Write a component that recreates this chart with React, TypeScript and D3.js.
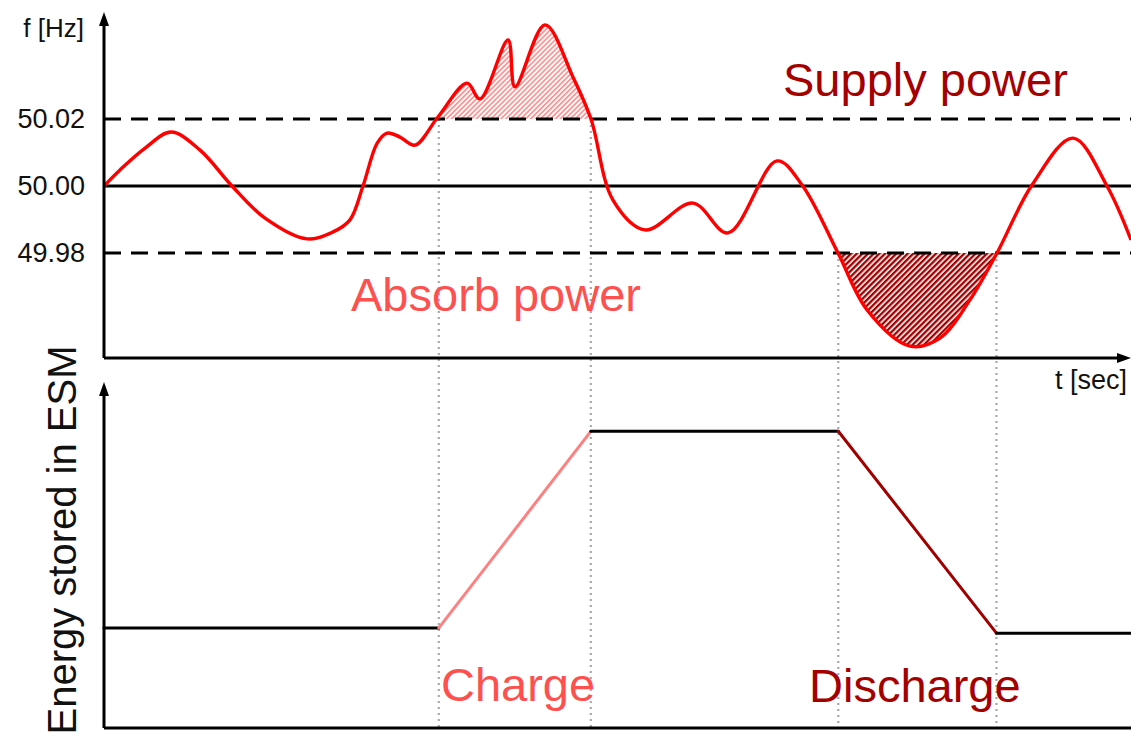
import React from "react";
import * as d3 from "d3";

// ---- data ----
const freqTimes = [0, 1.56, 4.0, 6.52, 9.35, 12.46, 15.68, 19.77, 22.3, 23.95, 25.22, 26.6, 27.56, 28.82, 30.28, 32.52, 35.35, 36.61, 39.34, 40.02, 42.94, 45.67, 47.42, 49.56, 52.68, 57.35, 60.76, 65.53, 67.97, 71.47, 74.3, 78.48, 81.4, 84.32, 86.95, 90.36, 94.35, 97.66, 100];
const freqValues = [50.0, 50.0048, 50.0113, 50.0161, 50.0107, 50.0, 49.9904, 49.9842, 49.9863, 49.9899, 50.0, 50.0128, 50.0158, 50.0146, 50.0122, 50.0206, 50.0307, 50.026, 50.0436, 50.0296, 50.0481, 50.0325, 50.02, 49.9958, 49.9869, 49.9949, 49.986, 50.0075, 50.0003, 49.98, 49.963, 49.9522, 49.9546, 49.966, 49.98, 50.0003, 50.0143, 50.0, 49.9839];
const freqTicks = [49.98, 50.0, 50.02];
const upperLimit = 50.02;
const lowerLimit = 49.98;
const crossTimes = [32.6, 47.4, 71.5, 86.9];
const energyTimes = [0, 32.6, 47.4, 71.5, 86.9, 100];
const energyValues = [2.9, 2.9, 8.6, 8.6, 2.75, 2.75];
const energyColors = ["#000000", "#ff8080", "#000000", "#a00000", "#000000"];

const W = 1131;
const H = 734;

export default function App() {
  const x = d3.scaleLinear().domain([0, 100]).range([104, 1131]);
  const yF = d3.scaleLinear().domain([49.98, 50.02]).range([253, 119]);
  const yE = d3.scaleLinear().domain([0, 10]).range([728, 383]);
  const topAxisY = 358;

  const pts: [number, number][] = freqTimes.map((t, i) => [t, freqValues[i]]);
  const curve = d3.curveCatmullRom.alpha(0.5);
  const line = d3.line<[number, number]>().x((d) => x(d[0])).y((d) => yF(d[1])).curve(curve);
  const areaUp = d3.area<[number, number]>().x((d) => x(d[0])).y0(yF(upperLimit)).y1((d) => yF(d[1])).curve(curve);
  const areaDown = d3.area<[number, number]>().x((d) => x(d[0])).y0(yF(lowerLimit)).y1((d) => yF(d[1])).curve(curve);

  const font = "'Liberation Sans', Arial, sans-serif";

  return (
    <svg width={W} height={H} style={{ position: "absolute", left: 0, top: 0, background: "#fff" }} fontFamily={font}>
      <defs>
        <pattern id="hatchUp" width="3.5" height="3.5" patternUnits="userSpaceOnUse" patternTransform="rotate(45)">
          <rect width="3.5" height="3.5" fill="#ffffff" />
          <rect width="1.6" height="3.5" fill="#ff8c8c" />
        </pattern>
        <pattern id="hatchDown" width="4" height="4" patternUnits="userSpaceOnUse" patternTransform="rotate(45)">
          <rect width="4" height="4" fill="#ffffff" />
          <rect width="2.4" height="4" fill="#a00000" />
        </pattern>
        <clipPath id="clipUp">
          <rect x={x(crossTimes[0])} y={0} width={x(crossTimes[1]) - x(crossTimes[0])} height={yF(upperLimit)} />
        </clipPath>
        <clipPath id="clipDown">
          <rect x={x(crossTimes[2])} y={yF(lowerLimit)} width={x(crossTimes[3]) - x(crossTimes[2])} height={200} />
        </clipPath>
      </defs>

      {/* hatched areas */}
      <path d={areaUp(pts) || ""} fill="url(#hatchUp)" clipPath="url(#clipUp)" />
      <path d={areaDown(pts) || ""} fill="url(#hatchDown)" clipPath="url(#clipDown)" />

      {/* dotted vertical guides */}
      {crossTimes.map((t, i) => (
        <line key={"g" + i} x1={x(t)} x2={x(t)} y1={i < 2 ? yF(upperLimit) : yF(lowerLimit)} y2={728}
          stroke="#a8a8a8" strokeWidth={2.2} strokeDasharray="2,4" />
      ))}

      {/* threshold dashed lines */}
      {[upperLimit, lowerLimit].map((v) => (
        <line key={"d" + v} x1={104} x2={1131} y1={yF(v)} y2={yF(v)} stroke="#000" strokeWidth={3.2} strokeDasharray="17,10" />
      ))}
      {/* nominal line */}
      <line x1={104} x2={1131} y1={yF(50.0)} y2={yF(50.0)} stroke="#000" strokeWidth={3} />

      {/* frequency curve */}
      <path d={line(pts) || ""} fill="none" stroke="#ff0000" strokeWidth={3.4} />

      {/* top axes */}
      <line x1={104} x2={104} y1={20} y2={topAxisY} stroke="#000" strokeWidth={3} />
      <polygon points={`${104},${12} ${99},${26} ${109},${26}`} fill="#000" />
      <line x1={104} x2={1122} y1={topAxisY} y2={topAxisY} stroke="#000" strokeWidth={3} />
      <polygon points={`${1131},${topAxisY} ${1117},${topAxisY - 5} ${1117},${topAxisY + 5}`} fill="#000" />

      {/* tick labels */}
      {freqTicks.map((v) => (
        <text key={"t" + v} x={85} y={yF(v) + 9} textAnchor="end" fontSize={27} fill="#111">
          {v.toFixed(2)}
        </text>
      ))}
      <text x={84} y={37} textAnchor="end" fontSize={26} fill="#111">f [Hz]</text>
      <text x={1127} y={389} textAnchor="end" fontSize={27} fill="#111">t [sec]</text>

      {/* annotations */}
      <text x={783} y={96} fontSize={47} fill="#a50000">Supply power</text>
      <text x={351} y={311} fontSize={47} fill="#ff5050">Absorb power</text>

      {/* energy panel */}
      {energyColors.map((c, i) => (
        <line key={"e" + i} x1={x(energyTimes[i])} x2={x(energyTimes[i + 1])}
          y1={yE(energyValues[i])} y2={yE(energyValues[i + 1])} stroke={c} strokeWidth={3} strokeLinecap="round" />
      ))}
      <line x1={104} x2={104} y1={390} y2={728} stroke="#000" strokeWidth={3} />
      <polygon points={`${104},${382} ${99},${396} ${109},${396}`} fill="#000" />
      <line x1={104} x2={1131} y1={728} y2={728} stroke="#000" strokeWidth={3} />

      <text transform={`translate(76,540) rotate(-90)`} textAnchor="middle" fontSize={40} fill="#111">
        Energy stored in ESM
      </text>
      <text x={441} y={701} fontSize={47} fill="#ff5050">Charge</text>
      <text x={809} y={702} fontSize={47} fill="#a50000">Discharge</text>
    </svg>
  );
}
